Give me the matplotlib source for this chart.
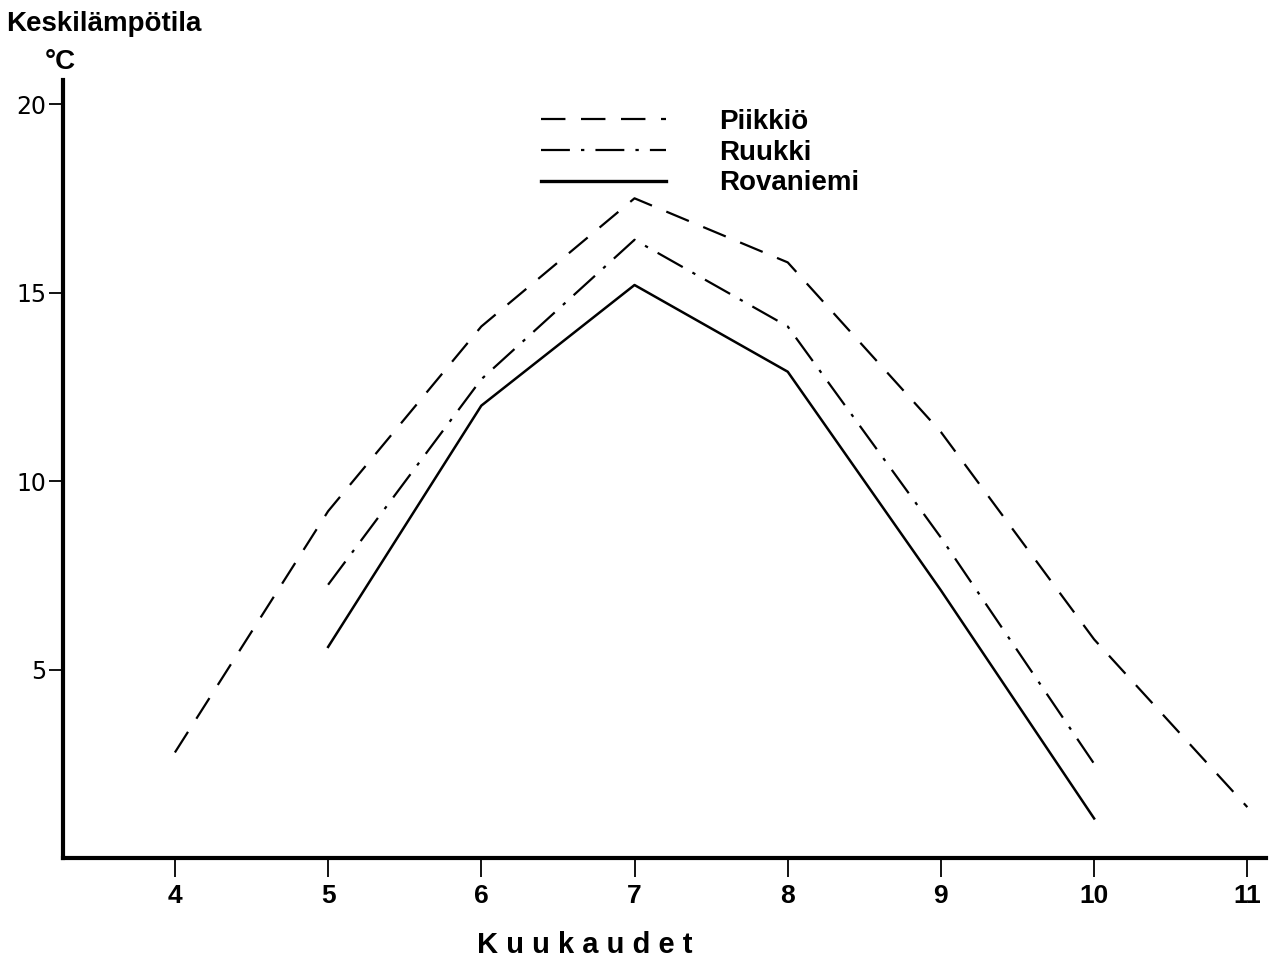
import matplotlib
matplotlib.use("Agg")
import matplotlib.pyplot as plt
from matplotlib.lines import Line2D

months_piikkio = [4, 5, 6, 7, 8, 9, 10, 11]
piikkio = [2.8, 9.2, 14.1, 17.5, 15.8, 11.3, 5.8, 1.35]
months_ruukki = [5, 6, 7, 8, 9, 10]
ruukki = [7.25, 12.7, 16.4, 14.1, 8.5, 2.5]
months_rovaniemi = [5, 6, 7, 8, 9, 10]
rovaniemi = [5.6, 12.0, 15.2, 12.9, 7.1, 1.05]
xticks = [4, 5, 6, 7, 8, 9, 10, 11]
yticks = [5, 10, 15, 20]
series_names = ["Piikkiö", "Ruukki", "Rovaniemi"]

fig = plt.figure(figsize=(12.74, 9.63), dpi=100)
ax = fig.add_axes([0.0495, 0.109, 0.944, 0.808])

dash_p = (0, (11, 7))
dash_r = (0, (13, 5, 1.5, 5))
ax.plot(months_piikkio, piikkio, color="black", lw=1.6, linestyle=dash_p)
ax.plot(months_ruukki, ruukki, color="black", lw=1.6, linestyle=dash_r)
ax.plot(months_rovaniemi, rovaniemi, color="black", lw=1.8, linestyle="-")

ax.set_xlim(3.27, 11.12)
ax.set_ylim(0, 20.64)
ax.spines["top"].set_visible(False)
ax.spines["right"].set_visible(False)
ax.spines["left"].set_linewidth(3)
ax.spines["bottom"].set_linewidth(3)

ax.set_xticks(xticks)
ax.set_xticklabels([str(t) for t in xticks], fontfamily="Liberation Sans",
                   fontweight="bold", fontsize=19)
ax.set_yticks(yticks)
ax.set_yticklabels([str(t) for t in yticks], fontfamily="DejaVu Sans", fontsize=17)
ax.tick_params(axis="x", direction="out", length=14, width=1.3, pad=5)
ax.tick_params(axis="y", direction="out", length=10, width=1.3, pad=2)

fig.text(0.005, 0.975, "Keskilämpötila", fontsize=20, fontweight="bold",
         fontfamily="Liberation Sans", ha="left", va="center")
fig.text(0.035, 0.936, "°C", fontsize=20, fontweight="bold",
         fontfamily="Liberation Sans", ha="left", va="center")

fig.text(0.459, 0.019, "K u u k a u d e t", fontsize=21, fontweight="bold",
         fontfamily="Liberation Sans", ha="center", va="center")

styles = [dict(lw=1.6, linestyle=dash_p),
          dict(lw=1.6, linestyle=dash_r),
          dict(lw=2.4, linestyle="-")]
handles = [Line2D([], [], color="black", **s) for s in styles]
leg = ax.legend(handles, series_names, loc="upper left",
                bbox_to_anchor=(0.377, 0.995), frameon=False,
                handlelength=4.5, handletextpad=1.9, labelspacing=0.17,
                prop={"family": "Liberation Sans", "weight": "bold", "size": 20})

fig.savefig("out.png", dpi=100)
